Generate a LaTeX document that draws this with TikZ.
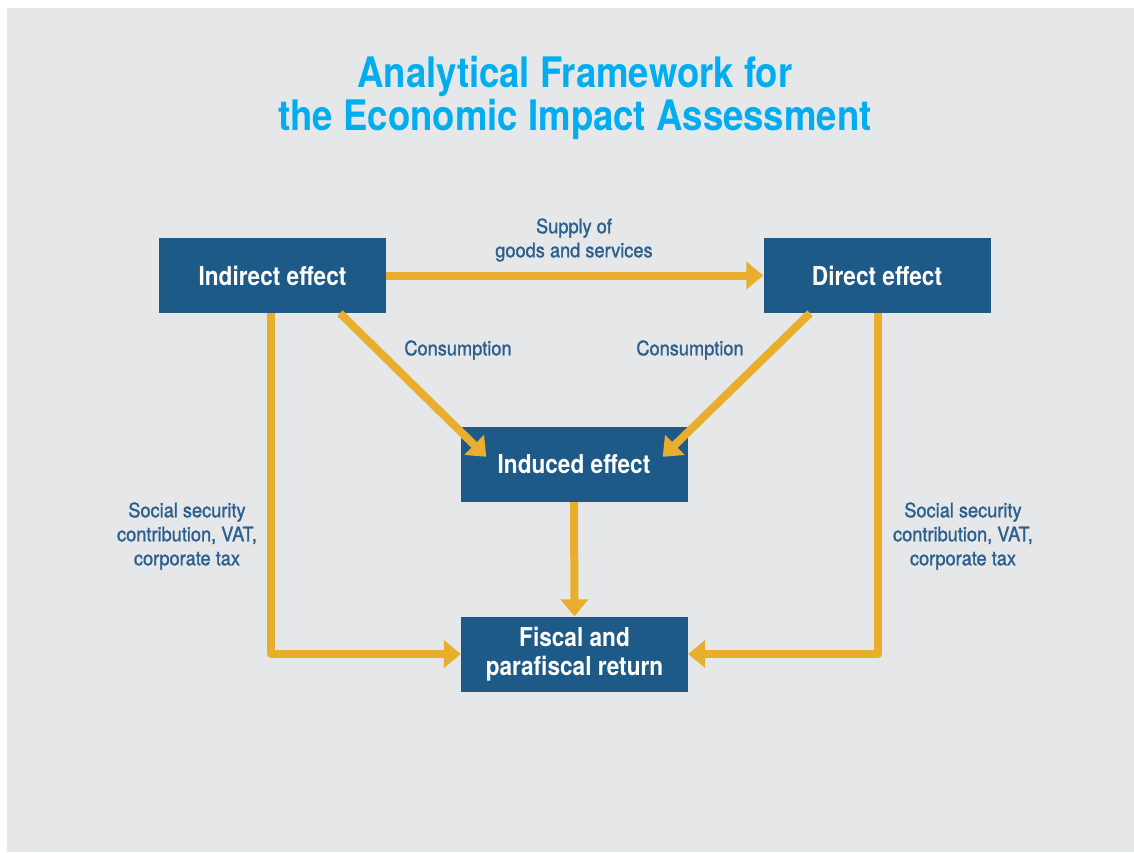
\documentclass[tikz,border=0pt]{standalone}
\usepackage{fontspec}
\setmainfont{TeX Gyre Heros}[FakeStretch=0.87]
\newfontfamily\labfont{TeX Gyre Heros}[FakeStretch=0.91,FakeBold=1.2]
\usetikzlibrary{arrows.meta,calc}
\definecolor{bggray}{HTML}{E6E7E8}
\definecolor{boxblue}{HTML}{1E5A88}
\definecolor{labblue}{HTML}{2A5F8E}
\definecolor{arrowyellow}{HTML}{E9AE2E}
\definecolor{titlecyan}{HTML}{00AEEF}
\tikzset{
  box/.style={fill=boxblue, text=white, minimum width=227pt, minimum height=75pt,
    inner sep=0pt, align=center, font=\fontsize{26}{29}\selectfont\bfseries},
  lab/.style={text=labblue, align=center, inner sep=0pt, font=\labfont\fontsize{20}{24}\selectfont},
  flow/.style={draw=arrowyellow, line width=8pt, line join=round,
    -{Triangle[length=17pt,width=27pt]}},
}
\begin{document}
\begin{tikzpicture}[x=1pt,y=-1pt]
\useasboundingbox (0,0) rectangle (1134,852);
\fill[white] (0,0) rectangle (1134,852);
\fill[bggray] (7,8) rectangle (1134,852);
\node[text=titlecyan, align=center, inner sep=0pt,
  font=\fontsize{42}{43}\selectfont\bfseries] (title) at (575,98)
  {Analytical Framework for\\the Economic Impact Assessment};

\node[box] (ind) at (272.5,275.5) {Indirect effect};
\node[box] (dir) at (877,275.5) {Direct effect};
\node[box] (indu) at (574,464.5) {Induced effect};
\node[box] (fis) at (574.5,654) {Fiscal and\\parafiscal return};

\draw[flow] (ind.east) -- (dir.west);
\draw[flow] ($(ind.south)+(67.5,0)$) -- ($(indu.north west)+(26,30)$);
\draw[flow] ($(dir.south)+(-67,0)$) -- ($(indu.north east)+(-25,30)$);
\draw[flow] (indu.south) -- (fis.north);
\draw[flow] ($(ind.south)+(-1.5,0)$) |- (fis.west);
\draw[flow] ($(dir.south)+(1,0)$) |- (fis.east);

\node[lab] (l1) at (574,240) {Supply of\\goods and services};
\node[lab] (l2) at (458,350) {Consumption};
\node[lab] (l3) at (690,350) {Consumption};
\node[lab] (l4) at (187,536) {Social security\\contribution, VAT,\\corporate tax};
\node[lab] (l5) at (963,536) {Social security\\contribution, VAT,\\corporate tax};
\end{tikzpicture}
\end{document}
